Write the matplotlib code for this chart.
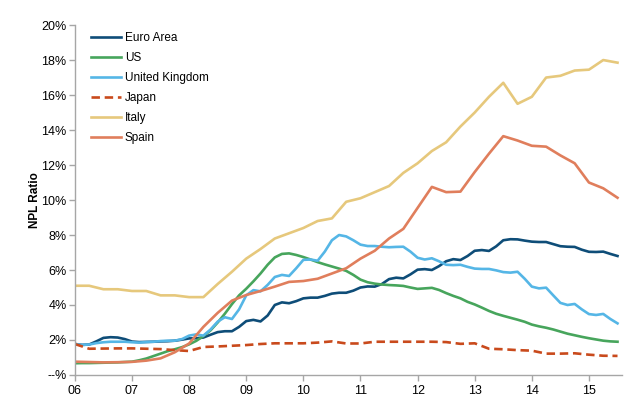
import matplotlib
matplotlib.use("Agg")
import matplotlib.pyplot as plt
import numpy as np

plt.rcParams['font.family'] = ['Liberation Sans', 'DejaVu Sans']

# Quarterly time axis (2006Q1 .. 2015Q3) and half-quarter axis
t_q = np.arange(39) * 0.25 + 2006.0
t_h = np.arange(77) * 0.125 + 2006.0

euro_area = [
    1.77, 1.72, 1.74, 1.92, 2.12, 2.16, 2.14, 2.05,
    1.91, 1.88, 1.89, 1.90, 1.92, 1.93, 1.96, 2.02,
    2.09, 2.10, 2.14, 2.30, 2.45, 2.50, 2.50, 2.75,
    3.08, 3.15, 3.06, 3.40, 4.00, 4.15, 4.10, 4.22,
    4.38, 4.42, 4.42, 4.52, 4.65, 4.70, 4.70, 4.82,
    5.00, 5.06, 5.05, 5.20, 5.48, 5.56, 5.52, 5.75,
    6.02, 6.05, 6.00, 6.22, 6.50, 6.62, 6.57, 6.80,
    7.10, 7.14, 7.09, 7.35, 7.70, 7.76, 7.75, 7.68,
    7.62, 7.60, 7.60, 7.48, 7.36, 7.33, 7.32, 7.16,
    7.04, 7.03, 7.05, 6.92, 6.80]

us = [
    0.67, 0.68, 0.68, 0.69, 0.70, 0.71, 0.72, 0.74,
    0.76, 0.84, 0.94, 1.08, 1.22, 1.36, 1.47, 1.59,
    1.75, 1.95, 2.22, 2.55, 3.00, 3.50, 4.05, 4.55,
    4.93, 5.35, 5.80, 6.30, 6.72, 6.92, 6.95, 6.86,
    6.74, 6.60, 6.45, 6.32, 6.20, 6.08, 5.95, 5.72,
    5.45, 5.30, 5.22, 5.17, 5.14, 5.12, 5.09, 5.00,
    4.92, 4.95, 4.98, 4.86, 4.68, 4.52, 4.38, 4.18,
    4.03, 3.85, 3.66, 3.50, 3.38, 3.27, 3.16, 3.04,
    2.88, 2.78, 2.70, 2.60, 2.48, 2.36, 2.27, 2.18,
    2.10, 2.03, 1.96, 1.92, 1.90]

uk = [
    1.77, 1.72, 1.74, 1.82, 1.87, 1.90, 1.90, 1.90,
    1.87, 1.85, 1.88, 1.90, 1.94, 1.96, 1.96, 2.05,
    2.25, 2.32, 2.25, 2.60, 3.05, 3.30, 3.20, 3.75,
    4.55, 4.85, 4.78, 5.15, 5.60, 5.72, 5.66, 6.10,
    6.58, 6.60, 6.53, 7.05, 7.70, 8.00, 7.92, 7.70,
    7.45, 7.37, 7.37, 7.33, 7.30, 7.32, 7.33, 7.05,
    6.70, 6.60, 6.67, 6.50, 6.30, 6.28, 6.30, 6.18,
    6.08, 6.06, 6.06, 5.98, 5.88, 5.85, 5.90, 5.50,
    5.05, 4.95, 4.99, 4.55, 4.12, 4.00, 4.06, 3.75,
    3.48, 3.43, 3.49, 3.20, 2.95]

japan = [
    1.77, 1.50, 1.51, 1.52, 1.52, 1.50, 1.48, 1.42,
    1.37, 1.60, 1.63, 1.67, 1.71, 1.77, 1.81, 1.81,
    1.81, 1.85, 1.92, 1.80, 1.80, 1.90, 1.90, 1.90,
    1.90, 1.90, 1.88, 1.78, 1.81, 1.50, 1.47, 1.42,
    1.39, 1.22, 1.22, 1.24, 1.16, 1.10, 1.09]

italy = [
    5.10, 5.10, 4.90, 4.90, 4.80, 4.80, 4.55, 4.55,
    4.45, 4.45, 5.20, 5.90, 6.65, 7.20, 7.80, 8.10,
    8.40, 8.80, 8.95, 9.90, 10.10, 10.45, 10.80, 11.55,
    12.10, 12.80, 13.30, 14.20, 15.00, 15.90, 16.70, 15.50,
    15.90, 17.00, 17.10, 17.40, 17.45, 18.00, 17.85]

spain = [
    0.76, 0.74, 0.72, 0.73, 0.75, 0.82, 0.95, 1.30,
    1.80, 2.75, 3.55, 4.25, 4.57, 4.80, 5.05, 5.32,
    5.37, 5.50, 5.80, 6.10, 6.65, 7.10, 7.80, 8.35,
    9.55, 10.75, 10.45, 10.48, 11.60, 12.65, 13.65, 13.40,
    13.10, 13.05, 12.55, 12.10, 11.00, 10.67, 10.13]

years = list(range(2006, 2016))
year_labels = ['06', '07', '08', '09', '10', '11', '12', '13', '14', '15']
y_ticks = list(range(0, 21, 2))
y_labels = ['--%'] + [f'{v}%' for v in y_ticks[1:]]

fig = plt.figure(figsize=(6.4, 3.99), dpi=100)
ax = fig.add_axes([0.117, 0.0602, 0.855, 0.877])

lw = 1.9
ax.plot(t_h, euro_area, color='#0e4d78', lw=lw, label='Euro Area')
ax.plot(t_h, us, color='#47a55c', lw=lw, label='US')
ax.plot(t_h, uk, color='#55b6e6', lw=lw, label='United Kingdom')
ax.plot(t_q, japan, color='#c94a1c', lw=lw, ls=(0, (3.2, 1.8)), label='Japan')
ax.plot(t_q, italy, color='#e6c87c', lw=lw, label='Italy')
ax.plot(t_q, spain, color='#e07e5c', lw=lw, label='Spain')

ax.set_xlim(2006, 2015.58)
ax.set_ylim(0, 20)
ax.set_xticks(years)
ax.set_xticklabels(year_labels, fontsize=9)
ax.set_yticks(y_ticks)
ax.set_yticklabels(y_labels, fontsize=9)

for s in ['top', 'right']:
    ax.spines[s].set_visible(False)
for s in ['left', 'bottom']:
    ax.spines[s].set_color('#a6a6a6')
    ax.spines[s].set_linewidth(1.0)
ax.tick_params(axis='both', colors='#a6a6a6', labelcolor='black', length=4, width=1.0)
ax.tick_params(axis='x', pad=3)
ax.tick_params(axis='y', pad=2)

ax.set_ylabel('NPL Ratio', fontsize=8.5, fontweight='bold', labelpad=0.5)

leg = ax.legend(loc='upper left', bbox_to_anchor=(0.029, 0.98), frameon=False,
                fontsize=8.5, handlelength=2.6, handletextpad=0.3,
                labelspacing=0.68, borderpad=0.0, borderaxespad=0.0)

fig.savefig('out.png', dpi=100)
